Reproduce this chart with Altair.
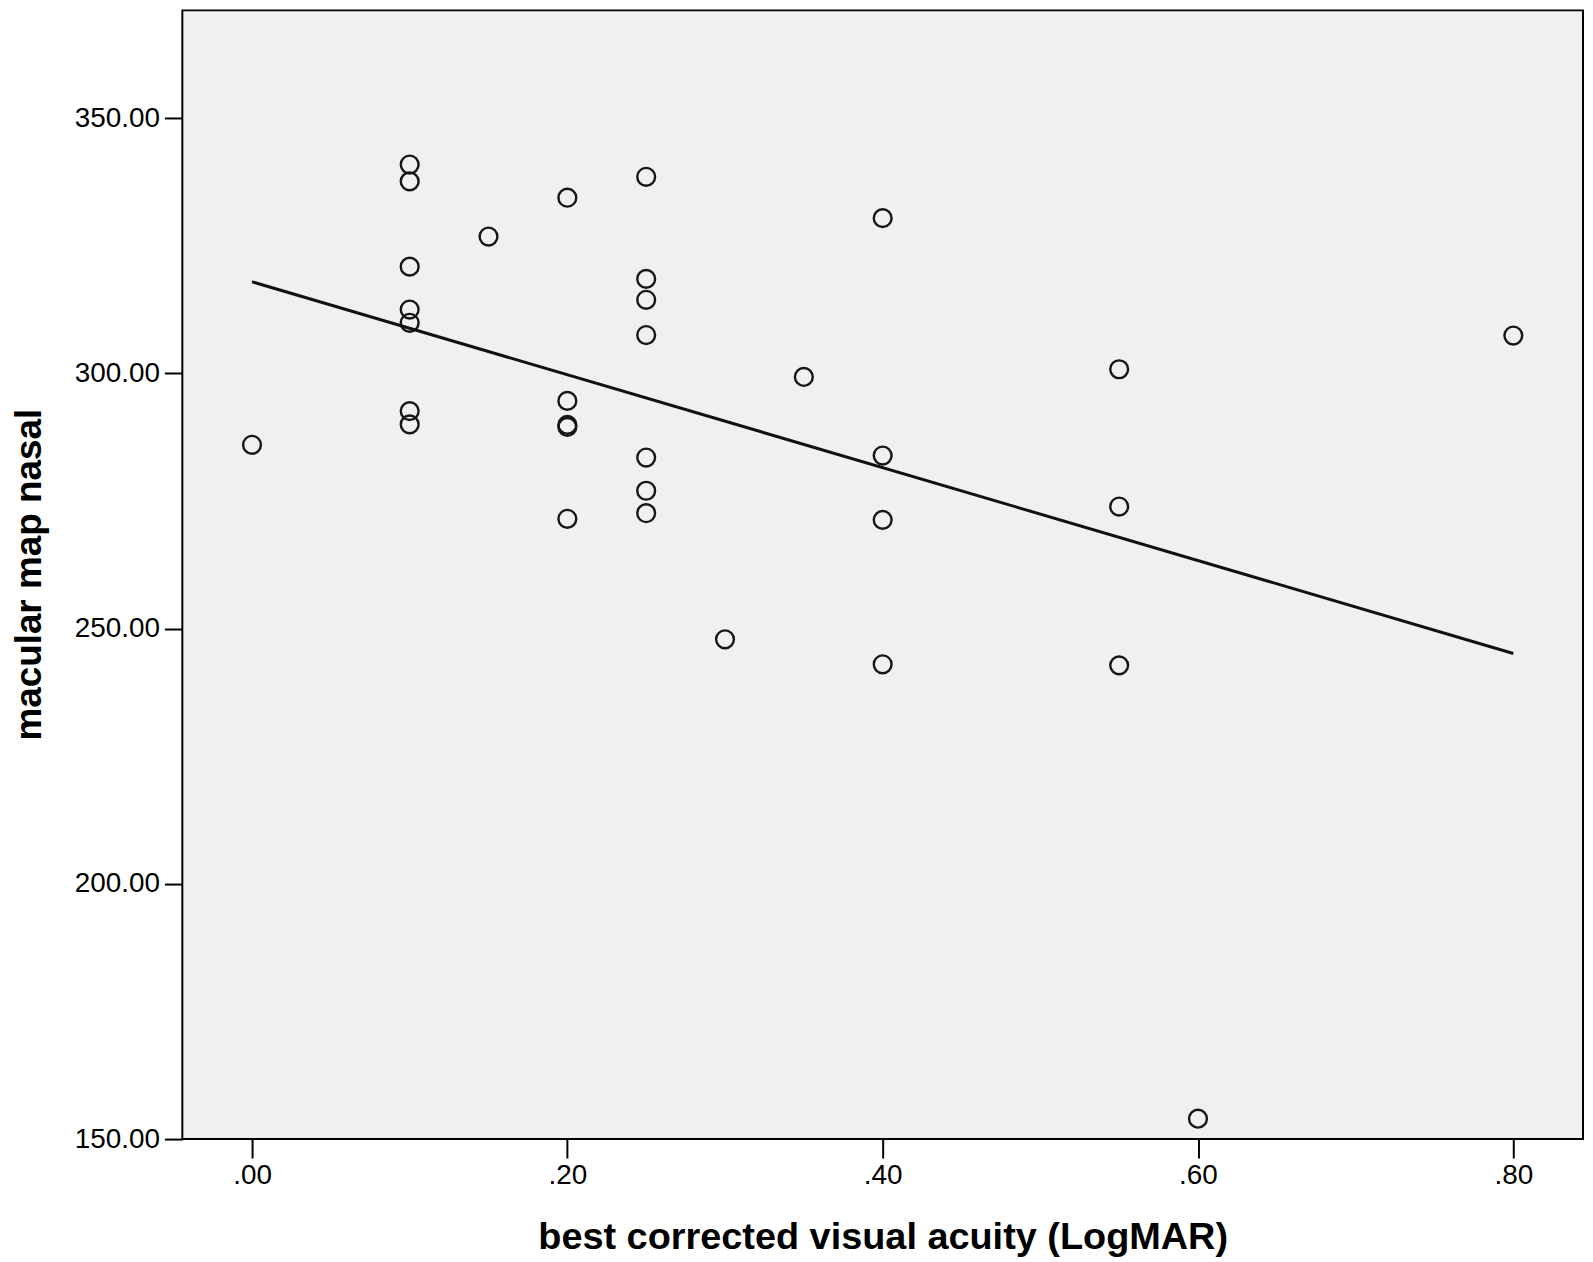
import altair as alt
import pandas as pd

# best corrected visual acuity (LogMAR)
acuity = [0.00,
          0.10, 0.10, 0.10, 0.10, 0.10, 0.10, 0.10,
          0.15,
          0.20, 0.20, 0.20, 0.20, 0.20,
          0.25, 0.25, 0.25, 0.25, 0.25, 0.25, 0.25,
          0.30,
          0.35,
          0.40, 0.40, 0.40, 0.40,
          0.55, 0.55, 0.55,
          0.60,
          0.80]
# macular map nasal
nasal = [286.0,
         340.9, 337.6, 320.9, 312.5, 309.9, 292.6, 290.0,
         326.8,
         334.4, 294.6, 289.9, 289.5, 271.5,
         338.5, 318.5, 314.4, 307.5, 283.5, 277.0, 272.6,
         247.9,
         299.3,
         330.4, 283.9, 271.3, 243.0,
         300.8, 273.9, 242.8,
         154.0,
         307.4]

x_ticks = [0.0, 0.2, 0.4, 0.6, 0.8]
y_ticks = [150, 200, 250, 300, 350]

df = pd.DataFrame({"acuity": acuity, "nasal": nasal})

FONT = "Liberation Sans"

x_enc = alt.X(
    "acuity:Q",
    scale=alt.Scale(domain=[-0.0442, 0.8442], nice=False, zero=False),
    axis=alt.Axis(
        values=x_ticks,
        labelExpr="substring(format(datum.value, '.2f'), 1)",
        labelFont=FONT, labelFontSize=28, labelColor="black",
        labelPadding=4,
        tickColor="black", tickWidth=2, tickSize=19,
        domain=False, grid=False,
        title="best corrected visual acuity (LogMAR)",
        titleFont=FONT, titleFontSize=38, titleFontWeight="bold",
        titleColor="black",
        titleX=703, titleY=110, titleAlign="center",
        titleBaseline="alphabetic",
    ),
)
y_enc = alt.Y(
    "nasal:Q",
    scale=alt.Scale(domain=[150, 371.1], nice=False, zero=False),
    axis=alt.Axis(
        values=y_ticks,
        format=".2f",
        labelFont=FONT, labelFontSize=28, labelColor="black",
        labelPadding=5,
        tickColor="black", tickWidth=2, tickSize=18,
        domain=False, grid=False,
        title="macular map nasal",
        titleFont=FONT, titleFontSize=37, titleFontWeight="bold",
        titleColor="black",
        titleAngle=-90, titleX=-171, titleY=566, titleAlign="center",
        titleBaseline="top",
    ),
)

base = alt.Chart(df)

points = base.mark_point(
    shape="circle", filled=False, size=320, strokeWidth=2.4,
    color="#161616", opacity=1,
).encode(x=x_enc, y=y_enc)

line = base.transform_regression(
    "acuity", "nasal", extent=[0, 0.8]
).mark_line(color="#111111", strokeWidth=3).encode(
    x=alt.X("acuity:Q"), y=alt.Y("nasal:Q")
)

chart = alt.layer(points, line).properties(
    width=1406,
    height=1133,
    autosize=alt.AutoSizeParams(type="none"),
    padding={"left": 175, "top": 0, "right": 2, "bottom": 121},
    background="white",
).configure_view(
    stroke="black", strokeWidth=2, fill="#f0f0f0"
)

chart.save("out.html", embed_options={"renderer": "svg", "actions": False})
